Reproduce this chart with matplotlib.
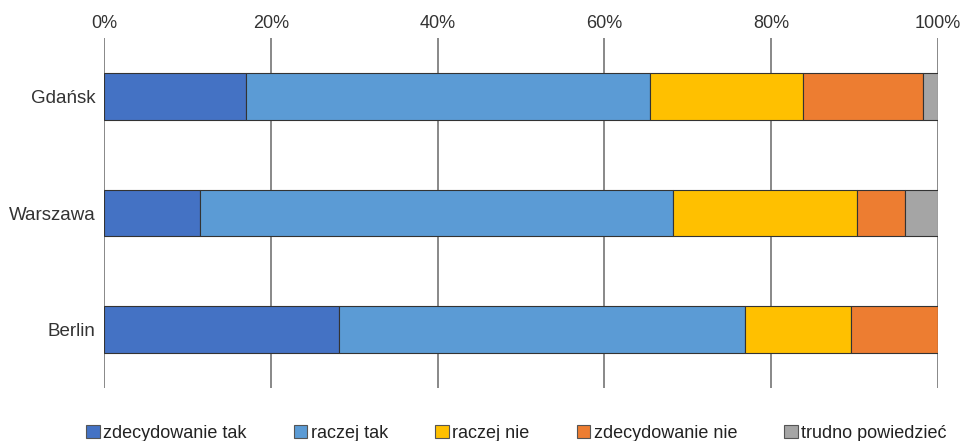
import matplotlib
matplotlib.use("Agg")
import matplotlib.pyplot as plt
from matplotlib.patches import Patch

plt.rcParams['font.family'] = ['Liberation Sans', 'DejaVu Sans']

cities = ["Gdańsk", "Warszawa", "Berlin"]
series_names = ["zdecydowanie tak", "raczej tak", "raczej nie", "zdecydowanie nie", "trudno powiedzieć"]
zdecydowanie_tak = [17.0, 11.5, 28.2]
raczej_tak = [48.5, 56.7, 48.7]
raczej_nie = [18.3, 22.1, 12.7]
zdecydowanie_nie = [14.4, 5.7, 10.4]
trudno_powiedziec = [1.8, 4.0, 0.0]
xticks = [0, 20, 40, 60, 80, 100]
xtick_labels = ["0%", "20%", "40%", "60%", "80%", "100%"]

colors = ["#4472C4", "#5B9BD5", "#FFC000", "#ED7D31", "#A5A5A5"]
series = [zdecydowanie_tak, raczej_tak, raczej_nie, zdecydowanie_nie, trudno_powiedziec]

fig = plt.figure(figsize=(9.62, 4.41), dpi=100)
ax = fig.add_axes([104/962, 1-388/441, (938-104)/962, (388-38)/441])

ypos = list(range(len(cities)))
left = [0.0]*len(cities)
for vals, col, name in zip(series, colors, series_names):
    ax.barh(ypos, vals, left=left, height=0.4, color=col, edgecolor="#333333",
            linewidth=0.8, zorder=3, label=name)
    left = [l+v for l, v in zip(left, vals)]

ax.set_xlim(0, 100)
ax.set_ylim(2.5, -0.5)
ax.set_yticks(ypos)
ax.set_yticklabels(cities, fontsize=13.5, color="#333333")
ax.set_xticks(xticks)
ax.set_xticklabels(xtick_labels, fontsize=13, color="#333333")
ax.xaxis.tick_top()
ax.tick_params(axis='y', length=0, pad=6)
ax.tick_params(axis='x', length=0, pad=4)
for x in xticks:
    ax.axvline(x, color="#7f7f7f", linewidth=1.3, zorder=1)
for s in ax.spines.values():
    s.set_visible(False)

handles = [Patch(facecolor=c, edgecolor="#555555", linewidth=0.8) for c in colors]
fig.legend(handles, series_names, loc="center", bbox_to_anchor=(0.537, 0.018),
           ncol=5, frameon=False, fontsize=13, handlelength=0.75, handleheight=0.75,
           handletextpad=0.2, columnspacing=2.6, labelcolor="#222222")

fig.savefig("out.png", dpi=100)
